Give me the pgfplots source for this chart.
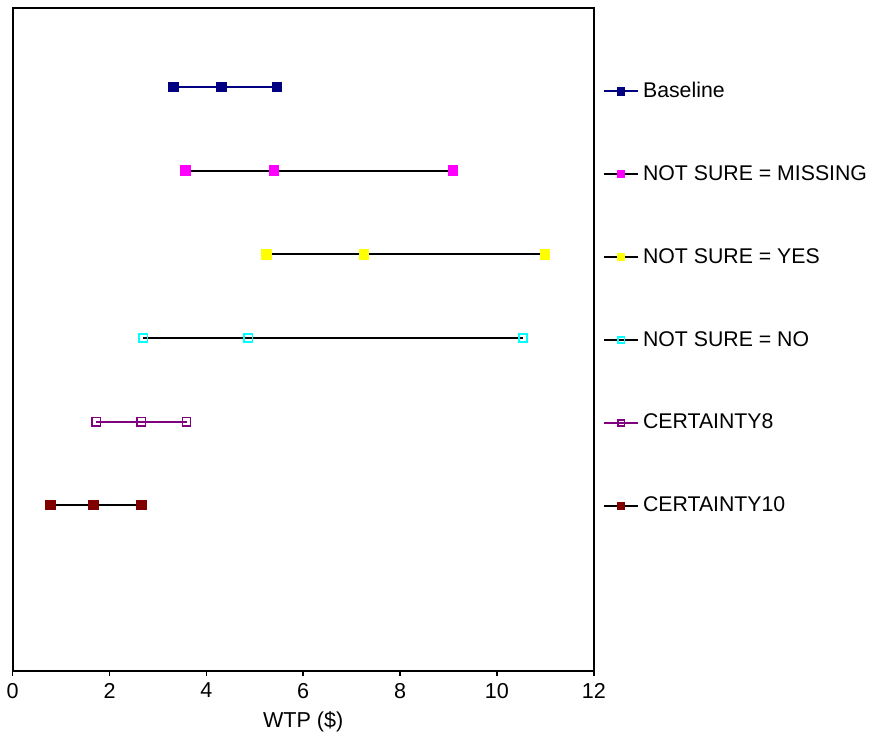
\documentclass[border=0pt]{standalone}
\usepackage{pgfplots}
\pgfplotsset{compat=1.18}
\usepackage{fontspec}
\setmainfont{Liberation Sans}
\definecolor{cNavy}{HTML}{000080}
\definecolor{cMag}{HTML}{FF00FF}
\definecolor{cYel}{HTML}{FFFF00}
\definecolor{cCyan}{HTML}{00FFFF}
\definecolor{cPurp}{HTML}{800080}
\definecolor{cMaroon}{HTML}{800000}
\pgfplotsset{
  wtpLine/.style={line width=1pt, mark=square*, mark size=2.1pt},
}
\begin{document}
\begin{tikzpicture}
  \begin{axis}[
    scale only axis,
    width=291pt, height=332pt,
    xmin=0, xmax=12, ymin=0.02, ymax=7.945,
    xtick={0,2,4,6,8,10,12},
    ytick=\empty,
    xtick pos=bottom,
    tick align=outside,
    major tick length=2.5pt,
    axis line style={line width=1pt},
    tick style={line width=0.8pt, black},
    clip=false,
    font=\fontsize{10.8}{13}\selectfont,
    tick label style={font=\fontsize{10.8}{13}\selectfont},
    /pgf/number format/assume math mode=true,
    xlabel={WTP (\$)},
    xlabel style={yshift=0pt},
    legend cell align=left,
    legend image code/.code={
      \draw[mark repeat=2, mark phase=2] plot coordinates {(0pt,0pt) (8.5pt,0pt) (17pt,0pt)};
    },
    legend image post style={mark size=1.6pt},
    legend style={
      draw=none, fill=none,
      at={(rel axis cs:1,0.5655)}, anchor=west, xshift=4.5pt, yshift=-1.3pt,
      font=\fontsize{10.65}{13}\selectfont,
      nodes={inner ysep=0pt, text height=9pt, text depth=3pt},
      row sep=29.5pt, inner sep=0pt,
    },
  ]
    \addplot[wtpLine, draw=cNavy, mark options={solid, fill=cNavy, draw=cNavy}]
      coordinates {(3.32,7) (4.31,7) (5.46,7)};
    \addlegendentry{Baseline}
    \addplot[wtpLine, draw=black, mark options={solid, fill=cMag, draw=cMag}]
      coordinates {(3.57,6) (5.40,6) (9.09,6)};
    \addlegendentry{NOT SURE = MISSING}
    \addplot[wtpLine, draw=black, mark options={solid, fill=cYel, draw=cYel}]
      coordinates {(5.24,5) (7.26,5) (10.99,5)};
    \addlegendentry{NOT SURE = YES}
    \addplot[wtpLine, draw=black, mark=square, mark options={solid, draw=cCyan, fill=none, line width=0.8pt}]
      coordinates {(2.70,4) (4.87,4) (10.54,4)};
    \addlegendentry{NOT SURE = NO}
    \addplot[wtpLine, draw=cPurp, mark=square, mark options={solid, draw=cPurp, fill=none, line width=0.8pt}]
      coordinates {(1.73,3) (2.66,3) (3.59,3)};
    \addlegendentry{CERTAINTY8}
    \addplot[wtpLine, draw=black, mark options={solid, fill=cMaroon, draw=cMaroon}]
      coordinates {(0.78,2) (1.67,2) (2.66,2)};
    \addlegendentry{CERTAINTY10}
    \path (rel axis cs:-0.0206,-0.1024) (rel axis cs:1.476,1.012);
  \end{axis}
\end{tikzpicture}
\end{document}
